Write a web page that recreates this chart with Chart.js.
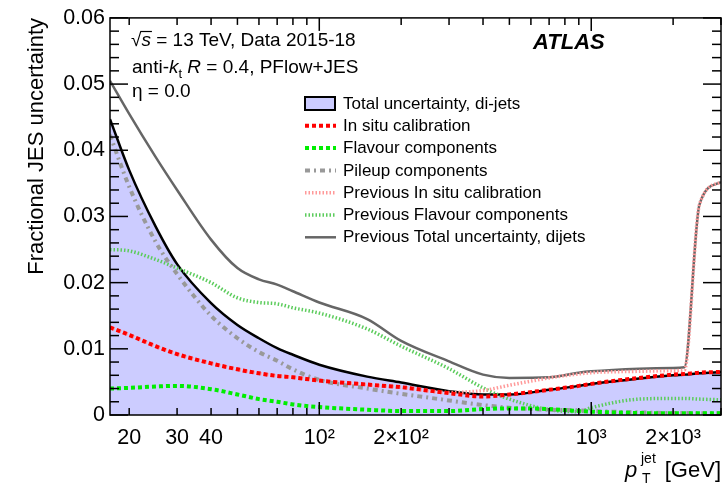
<!DOCTYPE html>
<html>
<head>
<meta charset="utf-8">
<script src="https://cdn.jsdelivr.net/npm/chart.js@4.4.0/dist/chart.umd.min.js"></script>
<style>
  body { margin: 0; background: #fff; }
</style>
</head>
<body>
<canvas id="chart" width="726" height="490"></canvas>
<script>
const FONT = '"Liberation Sans", Arial, Helvetica, sans-serif';

// jet pT points (GeV)
const pt = [17, 20, 25, 30, 40, 50, 60, 70, 80, 100, 150, 200, 300, 400, 500, 700, 900, 1000, 1500, 2000, 2200, 2500, 3000];

const totalUnc    = [0.0447, 0.0370, 0.0285, 0.0228, 0.0169, 0.0136, 0.0116, 0.0101, 0.0091, 0.0076, 0.0058, 0.0049, 0.0036, 0.0031, 0.0031, 0.0038, 0.0044, 0.0047, 0.0055, 0.0060, 0.0061, 0.0063, 0.0065];
const inSitu      = [0.01325, 0.0121, 0.0104, 0.0092, 0.0078, 0.0069, 0.0063, 0.0059, 0.0057, 0.0052, 0.0046, 0.0042, 0.0033, 0.0028, 0.0031, 0.0038, 0.0044, 0.0047, 0.0056, 0.0061, 0.0062, 0.0064, 0.0065];
const flavour     = [0.0040, 0.0041, 0.0043, 0.0044, 0.0039, 0.0031, 0.0024, 0.0020, 0.0016, 0.0012, 0.0008, 0.0006, 0.0006, 0.0009, 0.0010, 0.0009, 0.0006, 0.0005, 0.0003, 0.00025, 0.00025, 0.00025, 0.00025];
const pileup      = [0.0423, 0.0345, 0.0262, 0.0213, 0.0150, 0.0116, 0.0095, 0.0082, 0.0069, 0.0053, 0.0040, 0.0032, 0.0022, 0.0015, 0.0011, 0.0008, 0.0007, 0.0006, 0.0004, 0.0003, 0.0003, 0.00025, 0.00025];
const prevInSitu  = [0.01325, 0.0121, 0.0104, 0.0092, 0.0078, 0.0069, 0.0063, 0.0059, 0.0057, 0.0052, 0.0046, 0.0042, 0.0034, 0.0037, 0.0045, 0.0056, 0.0062, 0.0064, 0.0066, 0.0067, 0.0068, 0.0318, 0.0352];
const prevFlavour = [0.0250, 0.0248, 0.0235, 0.0222, 0.0200, 0.0177, 0.0170, 0.0168, 0.0162, 0.0154, 0.0130, 0.0104, 0.0070, 0.0041, 0.0024, 0.0008, 0.0005, 0.0011, 0.0024, 0.0025, 0.0025, 0.0024, 0.0023];
const prevTotal   = [0.0505, 0.0455, 0.0390, 0.0340, 0.0265, 0.0222, 0.0205, 0.0197, 0.0187, 0.0170, 0.0145, 0.0112, 0.0081, 0.0061, 0.0056, 0.0057, 0.0064, 0.0066, 0.0070, 0.0071, 0.0072, 0.0318, 0.0352];

const xTickValues = [20, 30, 40, 100, 200, 1000, 2000];
const xTickLabels = ['20', '30', '40', '10²', '2×10²', '10³', '2×10³'];

const pts = arr => pt.map((x, i) => ({ x: x, y: arr[i] }));

const datasets = [
  { label: 'Total uncertainty, di-jets', data: pts(totalUnc), borderColor: '#000', borderWidth: 2.5,
    backgroundColor: '#ccccff', fill: 'origin', order: 7 },
  { label: 'In situ calibration', data: pts(inSitu), borderColor: '#ff0000', borderWidth: 4,
    borderDash: [4, 3], order: 1 },
  { label: 'Flavour components', data: pts(flavour), borderColor: '#00ee00', borderWidth: 4,
    borderDash: [4, 3], order: 2 },
  { label: 'Pileup components', data: pts(pileup), borderColor: '#999999', borderWidth: 4,
    borderDash: [5, 4, 2, 4], order: 3 },
  { label: 'Previous In situ calibration', data: pts(prevInSitu), borderColor: '#ff9999', borderWidth: 3.5,
    borderDash: [1.5, 2], order: 4 },
  { label: 'Previous Flavour components', data: pts(prevFlavour), borderColor: '#5ccc5c', borderWidth: 3.5,
    borderDash: [1.5, 2], order: 6 },
  { label: 'Previous Total uncertainty, dijets', data: pts(prevTotal), borderColor: '#666666', borderWidth: 2.5,
    order: 5 }
];

function drawRich(ctx, x, y, parts) {
  ctx.textAlign = 'left';
  ctx.textBaseline = 'alphabetic';
  for (const [t, size, style, dy] of parts) {
    ctx.font = (style || '') + ' ' + size + 'px ' + FONT;
    ctx.fillText(t, x, y + (dy || 0));
    x += ctx.measureText(t).width;
  }
  return x;
}

const atlasDecor = {
  id: 'atlasDecor',
  afterDatasetsDraw(chart) {
    const { ctx, chartArea: a, scales: { x, y } } = chart;
    ctx.save();
    ctx.strokeStyle = '#000';
    ctx.lineWidth = 1.5;
    ctx.setLineDash([]);
    const seg = (x1, y1, x2, y2) => { ctx.beginPath(); ctx.moveTo(x1, y1); ctx.lineTo(x2, y2); ctx.stroke(); };

    // ROOT style ticks inside the frame
    for (let i = 0; i <= 30; i++) {
      const py = y.getPixelForValue(i * 0.002);
      const len = i % 5 === 0 ? 18 : 9;
      seg(a.left, py, a.left + len, py);
      seg(a.right - len, py, a.right, py);
    }
    for (let d = 10; d <= 1000; d *= 10) {
      for (let m = 1; m <= 9; m++) {
        const v = m * d;
        if (v < 17 || v > 3000) continue;
        const px = x.getPixelForValue(v);
        const len = m === 1 ? 13 : 7;
        seg(px, a.bottom, px, a.bottom - len);
        seg(px, a.top, px, a.top + len);
      }
    }
    ctx.strokeRect(a.left, a.top, a.right - a.left, a.bottom - a.top);

    // legend
    const rowY0 = 103.5, rowDy = 22.3;
    chart.data.datasets.forEach((ds, i) => {
      const ry = rowY0 + i * rowDy;
      if (ds.fill) {
        ctx.fillStyle = ds.backgroundColor;
        ctx.fillRect(305, ry - 6.5, 30, 13);
        ctx.strokeStyle = '#000';
        ctx.lineWidth = 2;
        ctx.setLineDash([]);
        ctx.strokeRect(305, ry - 6.5, 30, 13);
      } else {
        ctx.strokeStyle = ds.borderColor;
        ctx.lineWidth = ds.borderWidth;
        ctx.setLineDash(ds.borderDash || []);
        seg(305, ry, 336, ry);
      }
      ctx.setLineDash([]);
      ctx.fillStyle = '#000';
      ctx.font = '17px ' + FONT;
      ctx.textAlign = 'left';
      ctx.textBaseline = 'middle';
      ctx.fillText(ds.label, 343, ry + 0.5);
    });

    // labels
    ctx.fillStyle = '#000';
    let xe = drawRich(ctx, 131, 45.5, [['√', 19, '']]);
    const sx = xe;
    xe = drawRich(ctx, xe, 45.5, [['s', 19, 'italic']]);
    ctx.lineWidth = 1.2;
    ctx.strokeStyle = '#000';
    seg(sx - 1, 31.5, xe + 1, 31.5);
    drawRich(ctx, xe, 45.5, [[' = 13 TeV, Data 2015-18', 19, '']]);
    drawRich(ctx, 132, 72.5, [['anti-', 19, ''], ['k', 19, 'italic'], ['t', 13, '', 5], [' ', 19, ''],
      ['R', 19, 'italic'], [' = 0.4, PFlow+JES', 19, '']]);
    drawRich(ctx, 132, 97, [['η = 0.0', 19, '']]);
    drawRich(ctx, 533, 49, [['ATLAS', 22, 'italic bold']]);

    // x axis title
    drawRich(ctx, 625, 477, [['p', 22, 'italic']]);
    drawRich(ctx, 641, 463, [['jet', 14, '']]);
    drawRich(ctx, 642, 483, [['T', 14, '']]);
    ctx.font = '22px ' + FONT;
    ctx.textAlign = 'right';
    ctx.fillText('[GeV]', 721, 477);
    ctx.restore();
  }
};

new Chart(document.getElementById('chart'), {
  type: 'line',
  data: { datasets: datasets },
  options: {
    responsive: false,
    animation: false,
    layout: { padding: { left: 0, top: 15, right: 5, bottom: 0 } },
    elements: {
      point: { radius: 0 },
      line: { cubicInterpolationMode: 'monotone' }
    },
    plugins: {
      legend: { display: false },
      tooltip: { enabled: false }
    },
    scales: {
      x: {
        type: 'logarithmic',
        min: 17,
        max: 3000,
        grid: { display: false, drawTicks: false },
        border: { display: false },
        afterBuildTicks: s => { s.ticks = xTickValues.map(v => ({ value: v })); },
        afterFit: s => { s.height = 75; },
        ticks: {
          autoSkip: false,
          maxRotation: 0,
          padding: 10,
          color: '#000',
          font: { family: FONT, size: 21.5 },
          callback: (v, i) => xTickLabels[i]
        }
      },
      y: {
        min: 0,
        max: 0.06,
        grid: { display: false, drawTicks: false },
        border: { display: false },
        afterFit: s => { s.width = 110; },
        ticks: {
          stepSize: 0.01,
          padding: 5,
          color: '#000',
          font: { family: FONT, size: 21.5 },
          callback: v => v === 0 ? '0' : v.toFixed(2)
        },
        title: {
          display: true,
          text: 'Fractional JES uncertainty',
          align: 'end',
          color: '#000',
          font: { family: FONT, size: 22 },
          padding: { top: 24, bottom: 0 }
        }
      }
    }
  },
  plugins: [atlasDecor]
});
</script>
</body>
</html>
